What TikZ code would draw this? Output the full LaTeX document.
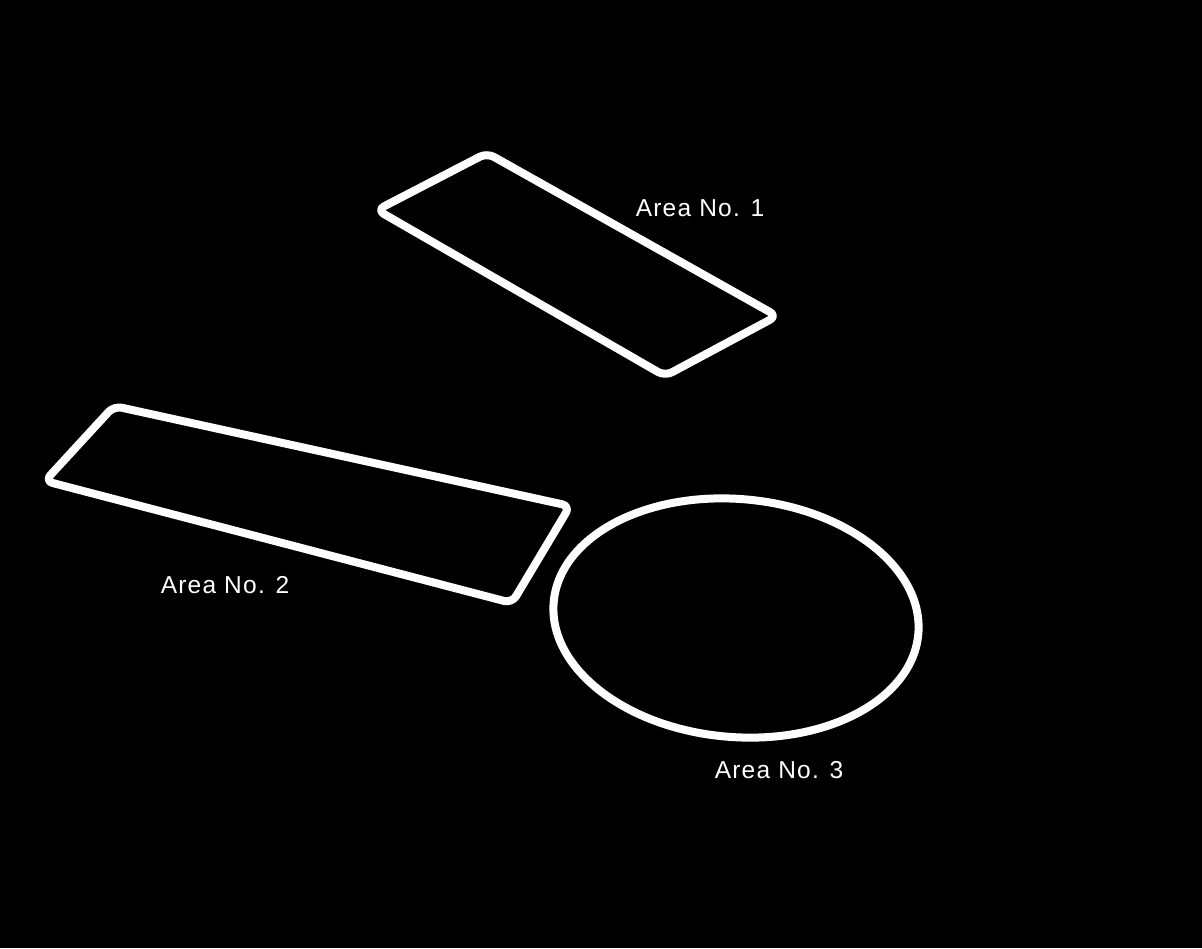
\documentclass[tikz,border=0pt]{standalone}
\usepackage{fontspec}
\setmainfont{Liberation Sans}
\begin{document}
\begin{tikzpicture}[x=1pt,y=-1pt,
  outline/.style={draw=white,line width=8pt,rounded corners=8pt,line join=round},
  lbl/.style={text=white,font=\fontsize{24.5}{28}\selectfont\addfontfeature{LetterSpace=5},inner sep=0pt}]
\fill[black] (0,0) rectangle (1202,948);
\useasboundingbox (0,0) rectangle (1202,948);
% Area 1
\draw[outline] (487,153) -- (377,210) -- (665,376) -- (777,316) -- cycle;
% Area 2
\draw[outline] (114,406) -- (45,481) -- (512,603) -- (570,506) -- cycle;
% Area 3
\draw[draw=white,line width=8pt] (736,618) ellipse[x radius=183,y radius=119,rotate=-5];
\node[lbl] (a1) at (700,208) {Area No. 1};
\node[lbl] (a2) at (225,585) {Area No. 2};
\node[lbl] (a3) at (779,770) {Area No. 3};
\end{tikzpicture}
\end{document}
